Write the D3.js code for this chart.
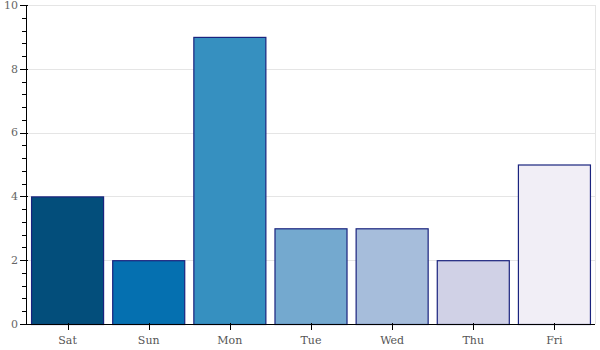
<!DOCTYPE html>
<html><head><meta charset="utf-8">
<script src="https://cdn.jsdelivr.net/npm/d3@7"></script>
<style>body{margin:0;background:#fff}svg{display:block}</style>
</head><body>
<svg id="c" width="600" height="350"></svg>
<script>
const categories = ["Sat","Sun","Mon","Tue","Wed","Thu","Fri"];
const values = [4,2,9,3,3,2,5];
const colors = ["#034e7b","#0570b0","#3690c0","#74a9cf","#a6bddb","#d0d1e6","#f1eef6"];
const yTicks = [0,2,4,6,8,10];

const svg = d3.select("#c");
const L = 27, R = 595, T = 5, B = 324;
const x = d3.scaleBand().domain(categories).range([L, R]).paddingInner(0.1).paddingOuter(0.05);
const xc = d3.scaleBand().domain(categories).range([L, R]);
const y = d3.scaleLinear().domain([0,10]).range([B, T]);
const font = "'DejaVu Serif', serif";

// grid
svg.append("g").selectAll("line").data(yTicks).join("line")
  .attr("x1", L).attr("x2", R).attr("y1", d=>Math.round(y(d))+0.5).attr("y2", d=>Math.round(y(d))+0.5)
  .attr("stroke", "#e5e5e5");
svg.append("line").attr("x1", R+0.5).attr("x2", R+0.5).attr("y1", T).attr("y2", B).attr("stroke", "#e5e5e5");

// bars
const bw = xc.bandwidth()*0.9;
svg.append("g").selectAll("rect").data(categories).join("rect")
  .attr("x", (d)=>xc(d)+xc.bandwidth()/2-bw/2+0.5)
  .attr("width", bw-1)
  .attr("y", (d,i)=>y(values[i])+0.5)
  .attr("height", (d,i)=>y(0)-y(values[i]))
  .attr("fill", (d,i)=>colors[i])
  .attr("stroke", "#1a237e").attr("stroke-width", 1.2);

// y axis
const minor = d3.range(0, 10.001, 0.4).map(v=>+v.toFixed(1));
const ya = svg.append("g");
ya.append("line").attr("x1", L-0.5).attr("x2", L-0.5).attr("y1", T).attr("y2", B+0.5).attr("stroke", "#000");
ya.selectAll(".mi").data(minor).join("line").attr("class","mi")
  .attr("x1", L-5).attr("x2", L).attr("y1", d=>Math.round(y(d))+0.5).attr("y2", d=>Math.round(y(d))+0.5).attr("stroke","#000");
ya.selectAll(".ma").data(yTicks).join("line").attr("class","ma")
  .attr("x1", L-7).attr("x2", L+1).attr("y1", d=>Math.round(y(d))+0.5).attr("y2", d=>Math.round(y(d))+0.5).attr("stroke","#000");
ya.selectAll("text").data(yTicks).join("text")
  .attr("x", L-9).attr("y", d=>y(d)).attr("dy","0.35em").attr("text-anchor","end")
  .attr("font-family", font).attr("font-size", 11).attr("fill", "#666").text(d=>d);

// x axis
const xa = svg.append("g");
xa.append("line").attr("x1", L-1).attr("x2", R).attr("y1", B+0.5).attr("y2", B+0.5).attr("stroke","#000");
xa.selectAll("line.t").data(categories).join("line").attr("class","t")
  .attr("x1", d=>Math.round(xc(d)+xc.bandwidth()/2)+0.5).attr("x2", d=>Math.round(xc(d)+xc.bandwidth()/2)+0.5)
  .attr("y1", B-1).attr("y2", B+6).attr("stroke","#000");
xa.selectAll("text").data(categories).join("text")
  .attr("x", d=>xc(d)+xc.bandwidth()/2).attr("y", 344).attr("text-anchor","middle")
  .attr("font-family", font).attr("font-size", 11).attr("fill", "#555").text(d=>d);
</script>
</body></html>
